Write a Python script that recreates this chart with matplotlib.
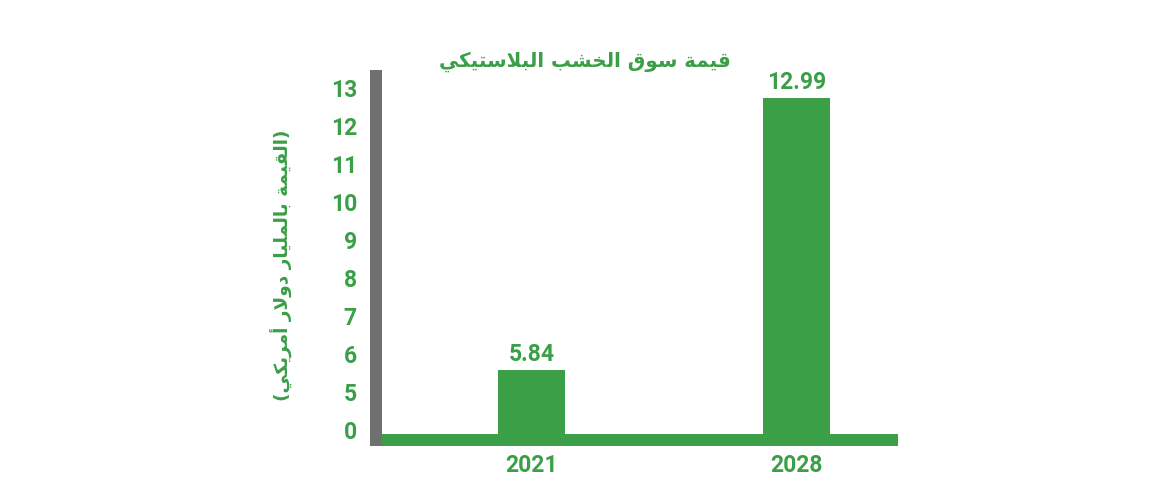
import numpy as np
import matplotlib
matplotlib.use('Agg')
from matplotlib import pyplot as plt
from matplotlib.transforms import ScaledTranslation

# data
years = ['2021', '2028']
values = [5.84, 12.99]
tick_values = [0, 5, 6, 7, 8, 9, 10, 11, 12, 13]
title_txt = 'قيمة سوق الخشب البلاستيكي'
ylabel_txt = '(القيمة بالمليار دولار أمريكي)'

green = '#3a9f46'
gray = '#707070'

# arabic shaping by hand (matplotlib has no complex text layout)
# forms: isolated, final, initial, medial
FORMS = {
    'ا': ('\uFE8D', '\uFE8E', None, None),
    'أ': ('\uFE83', '\uFE84', None, None),
    'ب': ('\uFE8F', '\uFE90', '\uFE91', '\uFE92'),
    'ة': ('\uFE93', '\uFE94', None, None),
    'ت': ('\uFE95', '\uFE96', '\uFE97', '\uFE98'),
    'خ': ('\uFEA5', '\uFEA6', '\uFEA7', '\uFEA8'),
    'د': ('\uFEA9', '\uFEAA', None, None),
    'ر': ('\uFEAD', '\uFEAE', None, None),
    'س': ('\uFEB1', '\uFEB2', '\uFEB3', '\uFEB4'),
    'ش': ('\uFEB5', '\uFEB6', '\uFEB7', '\uFEB8'),
    'ق': ('\uFED5', '\uFED6', '\uFED7', '\uFED8'),
    'ك': ('\uFED9', '\uFEDA', '\uFEDB', '\uFEDC'),
    'ل': ('\uFEDD', '\uFEDE', '\uFEDF', '\uFEE0'),
    'م': ('\uFEE1', '\uFEE2', '\uFEE3', '\uFEE4'),
    'و': ('\uFEED', '\uFEEE', None, None),
    'ي': ('\uFEF1', '\uFEF2', '\uFEF3', '\uFEF4'),
    'لا': ('\uFEFB', '\uFEFC', None, None),
    'لأ': ('\uFEF7', '\uFEF8', None, None),
}

def shape(text):
    units = []
    i = 0
    while i < len(text):
        c = text[i]
        if c == 'ل' and i + 1 < len(text) and text[i+1] in ('ا', 'أ'):
            units.append(c + text[i+1])
            i += 2
        else:
            units.append(c)
            i += 1
    out = []
    for k, u in enumerate(units):
        if u not in FORMS:
            out.append(u)
            continue
        iso, fin, ini, med = FORMS[u]
        prev = units[k-1] if k > 0 else None
        nxt = units[k+1] if k + 1 < len(units) else None
        jp = prev in FORMS and FORMS[prev][2] is not None
        jn = nxt in FORMS and ini is not None
        if jp and jn:
            out.append(med)
        elif jp:
            out.append(fin)
        elif jn:
            out.append(ini)
        else:
            out.append(iso)
    vis = ''.join(out)[::-1]
    return vis.translate(str.maketrans('()', ')('))

# broken axis: 0..5 squeezed into one step, then one step per unit
def fwd(v):
    v = np.asarray(v, dtype=float)
    return np.where(v <= 5, v / 5.0, v - 4.0)

def inv(p):
    p = np.asarray(p, dtype=float)
    return np.where(p <= 1, p * 5.0, p + 4.0)

num_font = 'Roboto'
ar_font = 'DejaVu Sans'

fig = plt.figure(figsize=(11.7, 5), dpi=100)
ax = fig.add_axes([376/1170, 54/500, 522/1170, 376/500])

x = np.arange(len(years))
ax.set_yscale('function', functions=(fwd, inv))
ax.bar(x, values, width=0.253, color=green, zorder=2)
ax.axhline(0, color=green, lw=8.64, zorder=2, solid_capstyle='butt')

ax.set_xlim(-0.587, 1.383)
ax.set_ylim(inv(-0.158), inv(9.737))

ax.set_yticks(tick_values)
ax.set_yticklabels([str(t) for t in tick_values])
ax.yaxis.set_minor_locator(plt.NullLocator())
ax.set_xticks(x)
ax.set_xticklabels(years)

ax.tick_params(axis='y', length=0, pad=13.7, labelcolor=green, labelsize=16.5)
ax.tick_params(axis='x', length=0, pad=6, labelcolor=green, labelsize=16.5)
for lab in ax.get_yticklabels() + ax.get_xticklabels():
    lab.set_fontfamily(num_font)
    lab.set_fontweight('bold')
off = ScaledTranslation(0, 0.1, fig.dpi_scale_trans)
for lab in ax.get_yticklabels():
    lab.set_transform(lab.get_transform() + off)

for s in ['top', 'right', 'bottom']:
    ax.spines[s].set_visible(False)
ax.spines['left'].set_color(gray)
ax.spines['left'].set_linewidth(8.64)
ax.spines['left'].set_capstyle('butt')
ax.spines['left'].set_zorder(3)

for xi, v in zip(x, values):
    ax.annotate(f'{v:.2f}', xy=(xi, v), xytext=(0, 6.5), textcoords='offset points',
                ha='center', va='baseline', color=green, fontsize=16.5,
                fontweight='bold', fontfamily=num_font)

ax.set_ylabel(shape(ylabel_txt), color=green, fontsize=13.3, fontweight='bold',
              fontfamily=ar_font, rotation=90)
ax.yaxis.set_label_coords(-0.159, 0.481)

fig.text(0.5, 1 - 62/500, shape(title_txt), ha='center', va='center', color=green,
         fontsize=14.2, fontweight='bold', fontfamily=ar_font)

fig.savefig('out.png', dpi=100)
